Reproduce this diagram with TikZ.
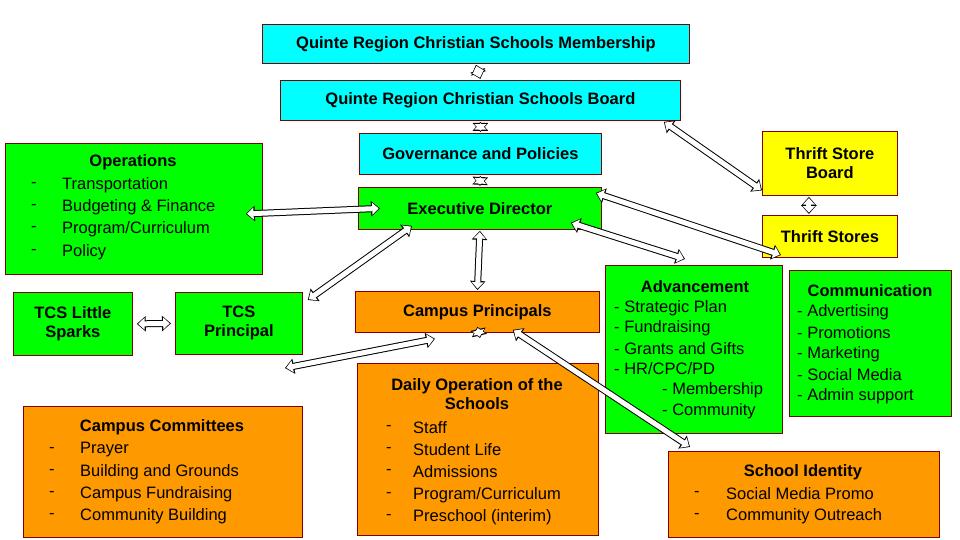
\documentclass[tikz,border=0pt]{standalone}
\usepackage{fontspec}
\setmainfont{Liberation Sans}
\usetikzlibrary{arrows.meta}
\definecolor{cy}{HTML}{00FFFF}
\definecolor{gr}{HTML}{00FF00}
\definecolor{ye}{HTML}{FFFF00}
\definecolor{orr}{HTML}{FF9900}
\definecolor{bd}{HTML}{800000}
\tikzset{
 box/.style={draw=bd, line width=0.8pt, anchor=north west, inner sep=0pt},
 ttl/.style={font=\fontsize{16.5}{19}\selectfont\bfseries, align=center},
 itm/.style={font=\fontsize{16.5}{19}\selectfont, anchor=west, inner sep=0pt},
 outerA/.style={line width=7pt, black, {Triangle[width=15pt,length=9pt]}-{Triangle[width=15pt,length=9pt]}},
 innerA/.style={line width=5pt, white, {Triangle[width=11.5pt,length=6.5pt]}-{Triangle[width=11.5pt,length=6.5pt]}, shorten <=1.3pt, shorten >=1.3pt},
}
\newcommand\harrow[2]{\draw[outerA] #1 -- #2; \draw[innerA] #1 -- #2;}
\begin{document}
\begin{tikzpicture}[x=1pt,y=-1pt]
\useasboundingbox (0,0) rectangle (960,540);
% boxes
\node[box, fill=cy, minimum width=427pt, minimum height=39pt] (mem) at (262,24) {};
\node[ttl] (memt) at (mem.center) {Quinte Region Christian Schools Membership};
\node[box, fill=cy, minimum width=400pt, minimum height=40pt] (brd) at (280,80) {};
\node[ttl] (brdt) at (brd.center) {Quinte Region Christian Schools Board};
\node[box, fill=cy, minimum width=242pt, minimum height=41pt] (gov) at (359,133) {};
\node[ttl] (govt) at (gov.center) {Governance and Policies};
\node[box, fill=gr, minimum width=243pt, minimum height=42pt] (exe) at (358,187) {};
\node[ttl] (exet) at (exe.center) {Executive Director};
\node[box, fill=ye, minimum width=135pt, minimum height=64pt] (tsb) at (762,131) {};
\node[ttl] (tsbt) at (tsb.center) {Thrift Store\\Board};
\node[box, fill=ye, minimum width=135pt, minimum height=42pt] (ts) at (762,215) {};
\node[ttl] (tst) at (ts.center) {Thrift Stores};
% operations
\node[box, fill=gr, minimum width=257pt, minimum height=131pt] (ops) at (5,143) {};
\node[ttl] (opst) at (133,162) {Operations};
\foreach \t/\y [count=\i] in {Transportation/185,Budgeting \& Finance/207,{Program/Curriculum}/229,Policy/252}{
 \node[itm] (opd\i) at (31,\y) {-}; \node[itm] (opi\i) at (62,\y) {\t};}
% TCS
\node[box, fill=gr, minimum width=119pt, minimum height=63pt] (spk) at (13,292) {};
\node[ttl] (spkt) at (spk.center) {TCS Little\\Sparks};
\node[box, fill=gr, minimum width=127pt, minimum height=62pt] (tcs) at (175,292) {};
\node[ttl] (tcst) at (tcs.center) {TCS\\Principal};
% campus principals
\node[box, fill=orr, minimum width=244pt, minimum height=41pt] (cp) at (355,291) {};
\node[ttl] (cpt) at (cp.center) {Campus Principals};
% advancement
\node[box, fill=gr, minimum width=177pt, minimum height=168pt] (adv) at (605,265) {};
\node[ttl] (advt) at (695,287) {Advancement};
\foreach \t/\x/\y [count=\i] in {- Strategic Plan/614/308,- Fundraising/614/328,- Grants and Gifts/614/349,{- HR/CPC/PD}/614/369,- Membership/662/390,- Community/662/411}{
 \node[itm] (adi\i) at (\x,\y) {\t};}
% communication
\node[box, fill=gr, minimum width=162pt, minimum height=146pt] (com) at (789,270) {};
\node[ttl] (comt) at (870,291) {Communication};
\foreach \t/\y [count=\i] in {- Advertising/312,- Promotions/333,- Marketing/354,- Social Media/375,- Admin support/396}{
 \node[itm] (coi\i) at (797,\y) {\t};}
% daily operation
\node[box, fill=orr, minimum width=241pt, minimum height=172pt] (dop) at (357,363) {};
\node[ttl] (dopt) at (477,394) {Daily Operation of the\\Schools};
\foreach \t/\y [count=\i] in {Staff/428,Student Life/450,Admissions/472,{Program/Curriculum}/495,Preschool (interim)/517}{
 \node[itm] (dod\i) at (386,\y) {-}; \node[itm] (doi\i) at (413,\y) {\t};}
% campus committees
\node[box, fill=orr, minimum width=279pt, minimum height=131pt] (cc) at (23,406) {};
\node[ttl] (cct) at (162,427) {Campus Committees};
\foreach \t/\y [count=\i] in {Prayer/450,Building and Grounds/472,Campus Fundraising/494,Community Building/516}{
 \node[itm] (ccd\i) at (49,\y) {-}; \node[itm] (cci\i) at (80,\y) {\t};}
% school identity
\node[box, fill=orr, minimum width=271pt, minimum height=86pt] (sid) at (668,451) {};
\node[ttl] (sidt) at (803,472) {School Identity};
\foreach \t/\y [count=\i] in {Social Media Promo/494,Community Outreach/516}{
 \node[itm] (sdd\i) at (694,\y) {-}; \node[itm] (sdi\i) at (726,\y) {\t};}
% arrows
\harrow{([yshift=-1pt]mem.south)}{([yshift=1pt]brd.north)}
\harrow{([yshift=-1pt]brd.south)}{([yshift=1pt]gov.north)}
\harrow{([yshift=-1pt]gov.south)}{([yshift=1pt]exe.north)}
\harrow{([xshift=-17pt,yshift=-1pt]brd.south east)}{([yshift=-27pt]tsb.west)}
\harrow{([xshift=-21pt,yshift=-1pt]tsb.south)}{([xshift=-21pt,yshift=1pt]ts.north)}
\harrow{([xshift=-17pt,yshift=-5pt]ops.east)}{([xshift=22pt]exe.west)}
\harrow{([xshift=54pt,yshift=4pt]exe.south west)}{([xshift=5pt,yshift=-8pt]tcs.north east)}
\harrow{([yshift=-1pt]exe.south)}{([yshift=1pt]cp.north)}
\harrow{([xshift=-31pt,yshift=7pt]exe.south east)}{([xshift=80pt,yshift=6pt]adv.north west)}
\harrow{([xshift=-6pt,yshift=-6pt]exe.north east)}{([xshift=-8pt,yshift=15pt]com.north west)}
\harrow{([xshift=4pt]spk.east)}{([xshift=-4pt]tcs.east -| tcs.west)}
\harrow{([xshift=80pt,yshift=-6pt]cp.south west)}{([xshift=262pt,yshift=38pt]cc.north west)}
\harrow{([yshift=6pt]cp.south)}{([xshift=123pt,yshift=25pt]dop.north west)}
\harrow{([xshift=-87pt,yshift=3pt]cp.south east)}{([xshift=22pt,yshift=4pt]sid.north west)}
\end{tikzpicture}
\end{document}
